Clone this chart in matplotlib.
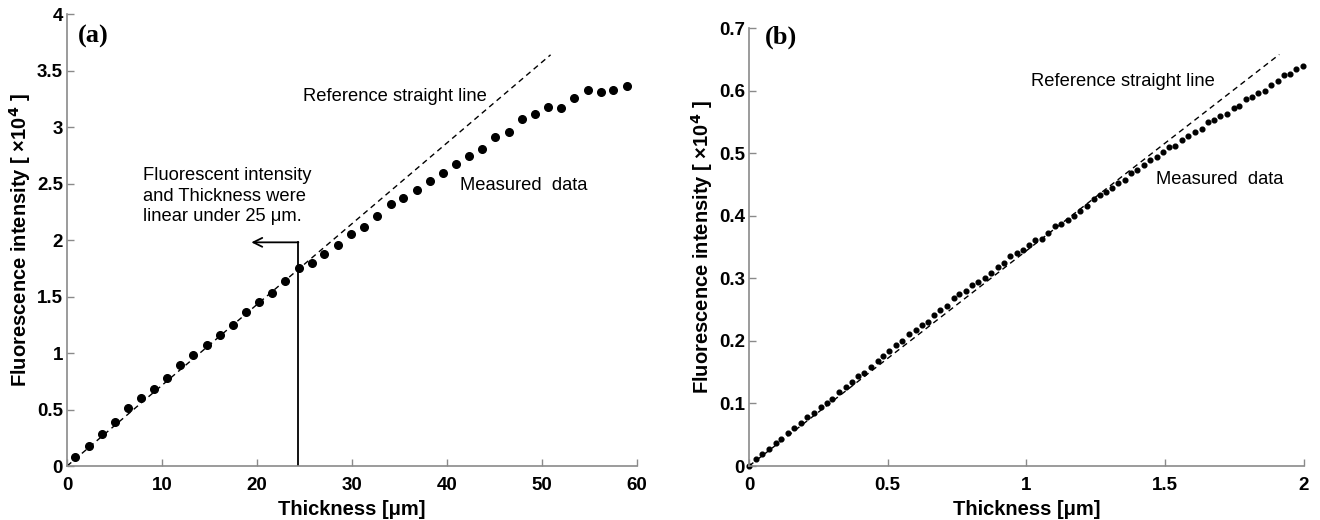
import matplotlib
matplotlib.use("Agg")
import matplotlib.pyplot as plt
from matplotlib.ticker import FormatStrFormatter

plt.rcParams['font.family'] = ['Liberation Sans', 'DejaVu Sans']

# panel (a): thickness 0-60 um
thick_a = [0.88, 2.28, 3.65, 5.05, 6.42, 7.79, 9.16, 10.5, 11.9, 13.3,
           14.7, 16.07, 17.47, 18.84, 20.2, 21.6, 22.98, 24.4, 25.75, 27.1,
           28.5, 29.9, 31.3, 32.6, 34.1, 35.4, 36.8, 38.2, 39.6, 40.95,
           42.3, 43.7, 45.1, 46.5, 47.9, 49.3, 50.6, 52.0, 53.4, 54.8,
           56.2, 57.5, 58.9]
fluo_a = [0.08, 0.18, 0.28, 0.39, 0.51, 0.60, 0.68, 0.78, 0.89, 0.98,
          1.07, 1.16, 1.25, 1.36, 1.45, 1.53, 1.64, 1.75, 1.80, 1.88,
          1.96, 2.05, 2.12, 2.21, 2.32, 2.37, 2.44, 2.52, 2.59, 2.67,
          2.74, 2.81, 2.91, 2.96, 3.07, 3.12, 3.18, 3.17, 3.26, 3.33,
          3.31, 3.33, 3.36]
ref_a_x = [0, 50.9]
ref_a_y = [0, 3.64]

# panel (b): thickness 0-2 um
thick_b = [0.0, 0.026, 0.048, 0.072, 0.096, 0.115, 0.139, 0.163, 0.186, 0.209,
           0.233, 0.258, 0.28, 0.30, 0.325, 0.348, 0.37, 0.394, 0.415, 0.44,
           0.464, 0.484, 0.506, 0.531, 0.552, 0.577, 0.601, 0.622, 0.644, 0.668,
           0.689, 0.714, 0.738, 0.757, 0.781, 0.805, 0.826, 0.85, 0.872, 0.896,
           0.92, 0.942, 0.966, 0.987, 1.008, 1.031, 1.055, 1.078, 1.103, 1.124,
           1.148, 1.172, 1.194, 1.218, 1.242, 1.264, 1.285, 1.309, 1.331, 1.355,
           1.377, 1.398, 1.422, 1.444, 1.47, 1.492, 1.514, 1.535, 1.559, 1.583,
           1.607, 1.631, 1.653, 1.677, 1.698, 1.722, 1.746, 1.766, 1.79, 1.814,
           1.835, 1.86, 1.881, 1.905, 1.927, 1.948, 1.972, 1.996]
fluo_b = [0.0, 0.012, 0.019, 0.028, 0.037, 0.043, 0.052, 0.061, 0.068, 0.078,
          0.085, 0.094, 0.101, 0.107, 0.119, 0.127, 0.134, 0.144, 0.148, 0.159,
          0.168, 0.176, 0.184, 0.194, 0.200, 0.211, 0.217, 0.225, 0.231, 0.241,
          0.249, 0.256, 0.268, 0.275, 0.280, 0.290, 0.295, 0.301, 0.308, 0.318,
          0.325, 0.335, 0.340, 0.345, 0.354, 0.362, 0.363, 0.372, 0.383, 0.387,
          0.393, 0.400, 0.408, 0.416, 0.427, 0.433, 0.438, 0.445, 0.453, 0.457,
          0.468, 0.473, 0.481, 0.490, 0.494, 0.502, 0.510, 0.512, 0.521, 0.528,
          0.534, 0.539, 0.550, 0.554, 0.559, 0.563, 0.572, 0.575, 0.586, 0.590,
          0.596, 0.600, 0.609, 0.615, 0.625, 0.627, 0.635, 0.640]
ref_b_x = [0, 1.911]
ref_b_y = [0, 0.658]

# the 25 um limit marker in panel (a)
limit_x = 24.35
limit_y = 1.98
arrow_end_x = 19.4

fig = plt.figure(figsize=(13.2, 5.2), dpi=100)
ax1 = fig.add_axes([0.0508, 0.1038, 0.4318, 0.869])
ax2 = fig.add_axes([0.5674, 0.1038, 0.4205, 0.842])

spine_col = '#8a8a8a'
dash = (0, (4, 3))


def style(ax):
    for s in ['top', 'right']:
        ax.spines[s].set_visible(False)
    for s in ['left', 'bottom']:
        ax.spines[s].set_color(spine_col)
        ax.spines[s].set_linewidth(1.2)
    ax.tick_params(direction='in', length=5, width=1, color=spine_col,
                   labelsize=13.5)
    ax.tick_params(axis='x', pad=8)
    ax.tick_params(axis='y', pad=3)
    for lab in ax.get_xticklabels() + ax.get_yticklabels():
        lab.set_fontweight('bold')
    ax.xaxis.set_major_formatter(FormatStrFormatter('%g'))
    ax.yaxis.set_major_formatter(FormatStrFormatter('%g'))
    ax.set_xlabel('Thickness [μm]', fontsize=14.5, fontweight='bold', labelpad=4)
    ax.set_ylabel('Fluorescence intensity [ ×10$^\\mathbf{4}$ ]', fontsize=14.5,
                  fontweight='bold', labelpad=3)


# ---- (a)
ax1.plot(ref_a_x, ref_a_y, color='black', lw=1, linestyle=dash)
ax1.plot(thick_a, fluo_a, 'o', color='black', ms=5.5, clip_on=False)
ax1.plot([limit_x, limit_x], [0, limit_y], color='black', lw=1.3)
ax1.annotate('', xy=(arrow_end_x, limit_y), xytext=(limit_x, limit_y),
             arrowprops=dict(arrowstyle='->', color='black', lw=1.3,
                             shrinkA=0, shrinkB=0, mutation_scale=16))
ax1.set_xlim(0, 60)
ax1.set_ylim(0, 4)
ax1.set_xticks(range(0, 61, 10))
ax1.set_yticks([0, 0.5, 1, 1.5, 2, 2.5, 3, 3.5, 4])
style(ax1)
ax1.text(24.8, 3.27, 'Reference straight line', fontsize=13.2, va='center')
ax1.text(41.4, 2.48, 'Measured  data', fontsize=13.2, va='center')
ax1.text(7.95, 2.39, 'Fluorescent intensity\nand Thickness were\nlinear under 25 μm.',
         fontsize=13.2, va='center', linespacing=1.25)
ax1.text(0.019, 0.95, '(a)', transform=ax1.transAxes, fontsize=19,
         fontweight='bold', family='Liberation Serif', va='center')

# ---- (b)
ax2.plot(ref_b_x, ref_b_y, color='black', lw=1, linestyle=dash)
ax2.plot(thick_b, fluo_b, 'o', color='black', ms=3.4, clip_on=False)
ax2.set_xlim(0, 2)
ax2.set_ylim(0, 0.7)
ax2.set_xticks([0, 0.5, 1, 1.5, 2])
ax2.set_yticks([0, 0.1, 0.2, 0.3, 0.4, 0.5, 0.6, 0.7])
style(ax2)
ax2.text(1.015, 0.615, 'Reference straight line', fontsize=13.2, va='center')
ax2.text(1.466, 0.458, 'Measured  data', fontsize=13.2, va='center')
ax2.text(0.029, 0.98, '(b)', transform=ax2.transAxes, fontsize=19,
         fontweight='bold', family='Liberation Serif', va='center')

fig.savefig('out.png', dpi=100)
